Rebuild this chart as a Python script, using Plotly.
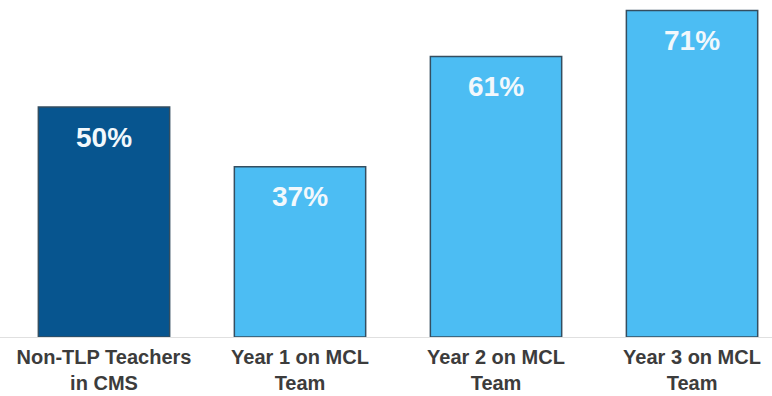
import plotly.graph_objects as go

categories = ["Non-TLP Teachers<br>in CMS", "Year 1 on MCL<br>Team", "Year 2 on MCL<br>Team", "Year 3 on MCL<br>Team"]
values = [50, 37, 61, 71]
labels = ["50%", "37%", "61%", "71%"]
colors = ["#07558f", "#4cbdf3", "#4cbdf3", "#4cbdf3"]

fig = go.Figure()
fig.add_trace(go.Bar(
    x=categories, y=values,
    marker=dict(color=colors, line=dict(color="#344e60", width=1.5)),
    width=0.67,
    hoverinfo="skip",
))
for c, v, t in zip(categories, values, labels):
    fig.add_annotation(x=c, y=v, text=t, showarrow=False, yshift=-30, yanchor="middle",
                       font=dict(family="Liberation Sans, Arial", size=28, color="#f2f8fc", weight="bold"))

fig.update_layout(
    width=772, height=396,
    margin=dict(l=0, r=0, t=0, b=59, autoexpand=False),
    paper_bgcolor="white", plot_bgcolor="white",
    showlegend=False,
    xaxis=dict(range=[-0.5306, 3.408], showline=True, linecolor="#e0e0e0", linewidth=1,
               tickfont=dict(family="Liberation Sans, Arial", size=20, color="#3c3c3c", weight="bold"),
               ticks="", ticklabelstandoff=2, showgrid=False, zeroline=False, automargin=False),
    yaxis=dict(range=[0, 73.26], visible=False, showgrid=False, zeroline=False),
)
fig.write_html("out.html")
